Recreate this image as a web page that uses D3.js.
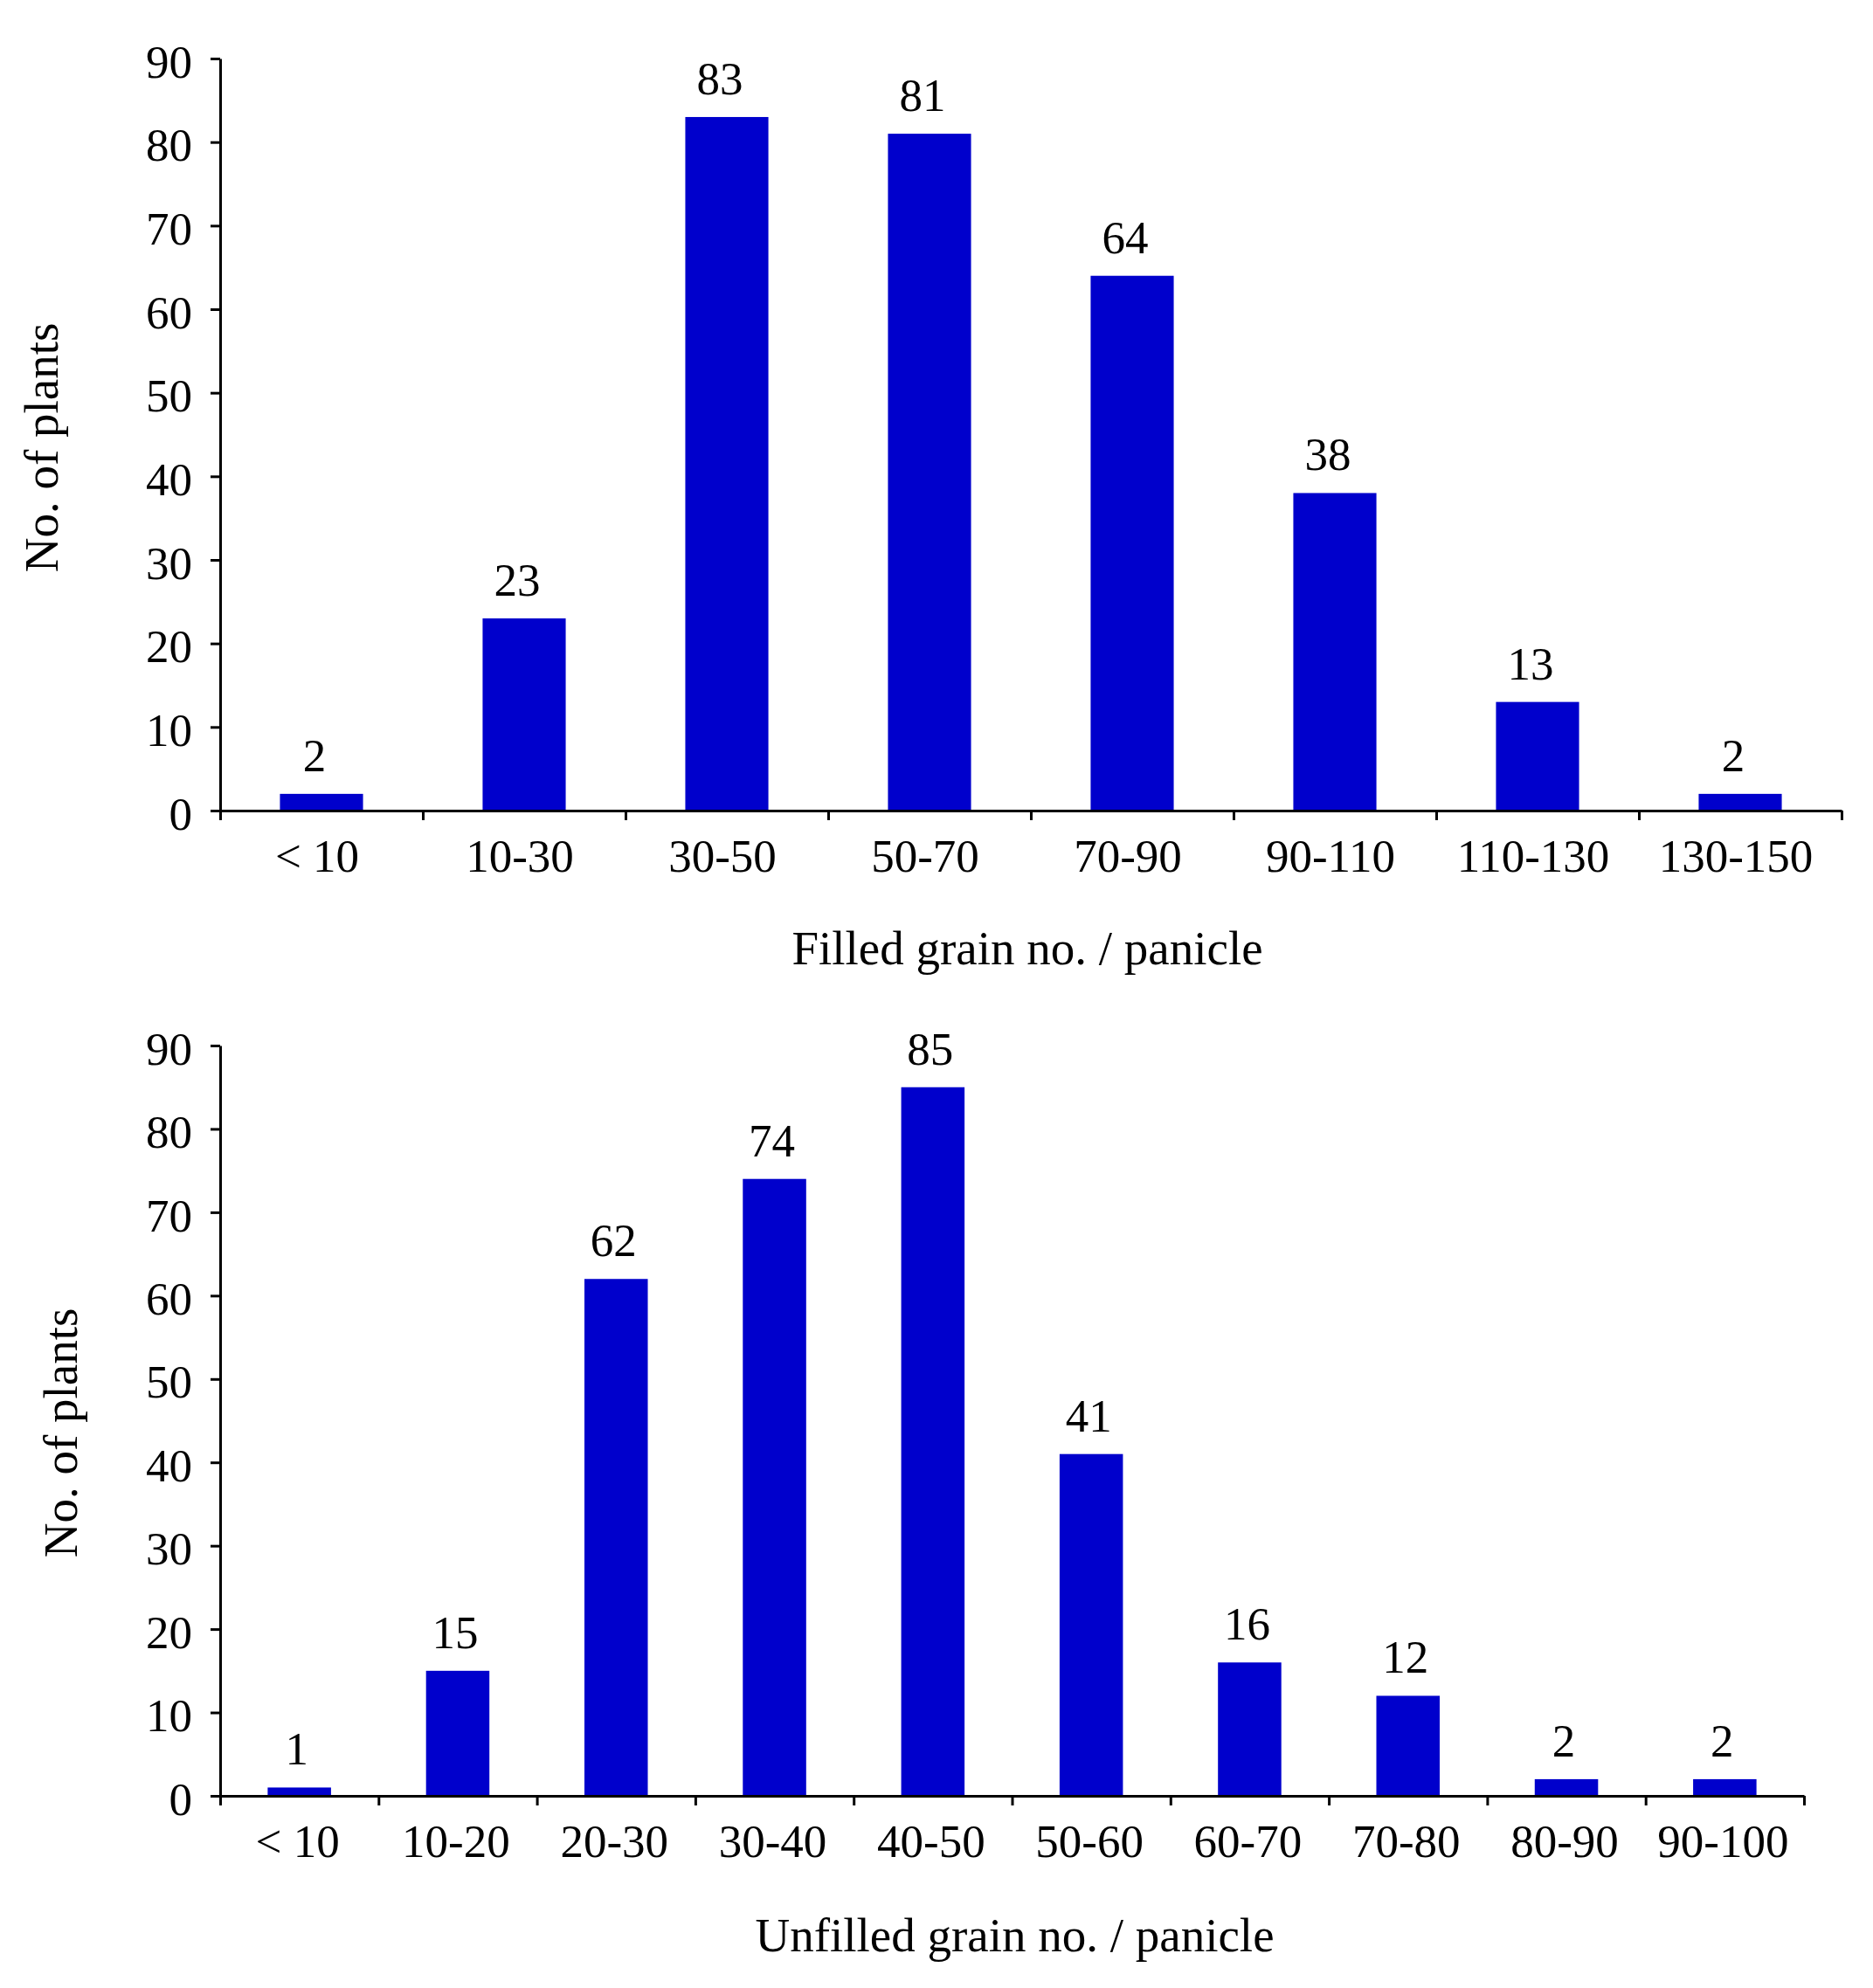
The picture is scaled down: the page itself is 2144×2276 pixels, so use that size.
<!DOCTYPE html>
<html>
<head>
<meta charset="utf-8">
<script src="https://cdnjs.cloudflare.com/ajax/libs/d3/7.8.5/d3.min.js"></script>
<style>
    body { margin: 0; background: #fff; }
    svg text { font-family: "Liberation Serif", "Times New Roman", serif; fill: #000; }
    .axis path, .axis line { stroke: #000; stroke-width: 3; }
</style>
</head>
<body>
<div id="chart"></div>
<script>
// filled grains per panicle
var filledCategories = ["< 10", "10-30", "30-50", "50-70", "70-90", "90-110", "110-130", "130-150"];
var filledCounts = [2, 23, 83, 81, 64, 38, 13, 2];

// unfilled grains per panicle
var unfilledCategories = ["< 10", "10-20", "20-30", "30-40", "40-50", "50-60", "60-70", "70-80", "80-90", "90-100"];
var unfilledCounts = [1, 15, 62, 74, 85, 41, 16, 12, 2, 2];

var yTicks = [0, 10, 20, 30, 40, 50, 60, 70, 80, 90];

var svg = d3.select("#chart").append("svg")
    .attr("width", 2144)
    .attr("height", 2276);

HistChart = function(_svg, _categories, _values, _config) {
    this.svg = _svg;
    this.categories = _categories;
    this.values = _values;
    this.config = _config;

    this.initVis();
}

HistChart.prototype.initVis = function() {
    var vis = this;
    var c = vis.config;

    vis.g = vis.svg.append("g")
        .attr("transform", "translate(" + c.left + "," + c.top + ")");

    // scales
    vis.x = d3.scaleBand()
        .domain(vis.categories)
        .range([0, c.width])
        .paddingInner(c.pad)
        .paddingOuter(c.pad / 2);
    vis.xEdges = d3.scaleLinear()
        .domain([0, vis.categories.length])
        .range([0, c.width]);
    vis.y = d3.scaleLinear()
        .domain([0, 90])
        .range([c.height, 0]);

    // bars
    vis.g.selectAll("rect.bar")
        .data(vis.values)
        .enter()
        .append("rect")
        .attr("class", "bar")
        .attr("x", function(d, i) { return vis.x(vis.categories[i]); })
        .attr("y", function(d) { return vis.y(d); })
        .attr("width", vis.x.bandwidth())
        .attr("height", function(d) { return c.height - vis.y(d); })
        .style("fill", "#0000cc");

    // value labels above bars (sit a little left of centre in the original)
    vis.g.selectAll("text.value")
        .data(vis.values)
        .enter()
        .append("text")
        .attr("class", "value")
        .attr("x", function(d, i) { return vis.x(vis.categories[i]) + vis.x.bandwidth() / 2 + c.valueShift; })
        .attr("y", function(d) { return vis.y(d) - 26; })
        .attr("text-anchor", "middle")
        .style("font-size", "53px")
        .text(function(d) { return d; });

    // y axis
    var yAxis = d3.axisLeft(vis.y)
        .tickValues(yTicks)
        .tickSize(11)
        .tickSizeOuter(0)
        .tickPadding(21);
    var yG = vis.g.append("g")
        .attr("class", "axis")
        .call(yAxis);
    yG.selectAll("text")
        .attr("dy", "0.4em")
        .style("font-size", "53px");

    // x axis: ticks on the bin edges
    var edgeAxis = d3.axisBottom(vis.xEdges)
        .tickValues(d3.range(vis.categories.length + 1))
        .tickSize(11)
        .tickSizeOuter(0)
        .tickFormat("");
    vis.g.append("g")
        .attr("class", "axis")
        .attr("transform", "translate(0," + c.height + ")")
        .call(edgeAxis);

    // x labels centred under bins
    var labelAxis = d3.axisBottom(vis.x)
        .tickSize(0)
        .tickPadding(32);
    var xG = vis.g.append("g")
        .attr("class", "axis")
        .attr("transform", "translate(0," + c.height + ")")
        .call(labelAxis);
    xG.select(".domain").remove();
    xG.selectAll("text")
        .attr("dx", c.labelShift)
        .style("font-size", "53px");

    // axis titles
    vis.g.append("text")
        .attr("x", c.width / 2 + c.xTitleShift)
        .attr("y", c.height + c.xTitleGap)
        .attr("text-anchor", "middle")
        .style("font-size", "55px")
        .text(c.xTitle);

    vis.g.append("text")
        .attr("transform", "translate(" + (-c.yTitleGap) + "," + (c.height / 2 + c.yTitleShift) + ") rotate(-90)")
        .attr("text-anchor", "middle")
        .style("font-size", "55px")
        .text("No. of plants");
}

var filledChart = new HistChart(svg, filledCategories, filledCounts, {
    left: 252, top: 67, width: 1856, height: 861,
    pad: 0.59, valueShift: -8, labelShift: -5,
    xTitle: "Filled grain no. / panicle", xTitleGap: 176, xTitleShift: -4,
    yTitleGap: 186, yTitleShift: 15
});

var unfilledChart = new HistChart(svg, unfilledCategories, unfilledCounts, {
    left: 252, top: 1197, width: 1813, height: 859,
    pad: 0.6, valueShift: -3, labelShift: -2,
    xTitle: "Unfilled grain no. / panicle", xTitleGap: 178, xTitleShift: 3,
    yTitleGap: 164, yTitleShift: 14
});
</script>
</body>
</html>
